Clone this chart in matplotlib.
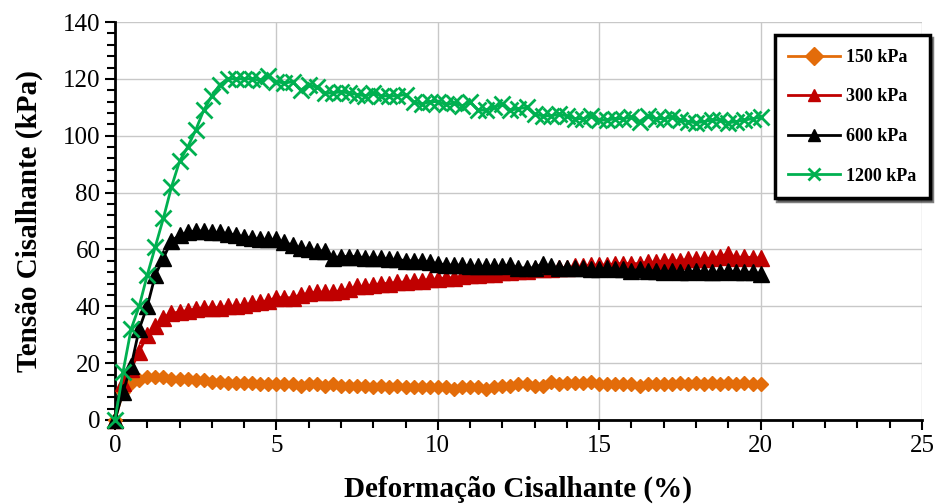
import numpy as np
import matplotlib.pyplot as plt
from matplotlib.ticker import MultipleLocator

# deformação (%) - passo de 0.25
strain = [i * 0.25 for i in range(81)]

tau_150 = [0, 10, 13, 14, 15, 15, 15, 14.5, 14.5, 14.5, 14, 14, 13.5, 13.5, 13, 13,
           13, 13, 12.5, 12.5, 12.5, 12.5, 12.5, 12, 12.5, 12.5, 12, 12.5, 12, 12, 12, 12,
           11.5, 12, 11.5, 12, 11.5, 11.5, 11.5, 11.5, 11.5, 11.5, 11, 11.5, 11.5, 11.5, 11, 11.5,
           12, 12, 12.5, 12.5, 12, 12, 13.5, 12.5, 13, 13, 13, 13.5, 12.5, 12.5, 12.5, 12.5,
           12.5, 12, 12.5, 12.5, 12.5, 12.5, 13, 12.5, 13, 12.5, 13, 12.5, 13, 12.5, 13, 12.5, 12.5]

tau_300 = [0, 13, 18, 24, 30, 33, 36, 37.5, 38, 38.5, 39, 39.5, 39.5, 39.5, 40, 40,
           40.5, 41, 41.5, 42, 43, 43, 43, 44, 44.5, 45, 45, 45, 45.5, 46, 47, 47,
           47.5, 48, 48, 48.5, 48.5, 49, 49, 49.5, 49.5, 50, 50, 50.5, 51, 51, 51.5, 51.5,
           52, 52, 52.5, 52.5, 53, 53, 53, 53.5, 53.5, 54, 54, 54.5, 54.5, 54.5, 55, 55,
           55, 55, 55.5, 55.5, 56, 56, 56, 56.5, 56.5, 56.5, 57, 57.5, 58.5, 57, 57.5, 57, 57]

tau_600 = [0, 10, 19, 32, 40, 51, 57, 63, 65, 66, 66.5, 66.5, 66, 66, 65.5, 65,
           64.5, 64, 63.5, 63.5, 63.5, 62.5, 61.5, 60.5, 60, 59.5, 59.5, 57, 57.5, 57.5, 57.5, 57,
           57, 57, 56.5, 56.5, 56, 56, 56, 55.5, 55, 54.5, 54.5, 54.5, 54, 54, 54, 54,
           54, 54.5, 53.5, 53.5, 53.5, 55, 54, 53.5, 53.5, 53.5, 53.5, 53, 53, 53.5, 53, 53,
           52.5, 53, 52.5, 52.5, 52, 52.5, 52, 52, 52.5, 52, 52, 52, 52.5, 52, 52, 52, 51.5]

tau_1200 = [0, 17, 32, 40, 51, 61, 71, 82, 91, 96, 102, 109, 114, 118, 120, 120,
            120, 120, 119.5, 121, 119, 118.5, 119, 116, 118, 117, 115, 115, 115.5, 115, 114.5, 114,
            115, 114, 114, 114, 114.5, 112, 111, 112, 112, 111, 111.5, 110.5, 112, 109, 109, 110,
            111, 109, 109.5, 110, 107.5, 107, 107, 107.5, 107, 106, 106, 107, 105.5, 105.5, 106, 106,
            106.5, 105, 107, 106, 106, 106.5, 105.5, 105, 104.5, 105, 105.5, 105.5, 104.5, 105, 105.5, 106, 106.5]

labels = ['150 kPa', '300 kPa', '600 kPa', '1200 kPa']

plt.rcParams['font.family'] = ['Liberation Serif', 'DejaVu Serif']

fig = plt.figure(figsize=(9.41, 5.04), dpi=100)
ax = fig.add_axes([0.1222, 0.1667, 0.8576, 0.7896])

ax.plot(strain, tau_150, color='#E36C0A', lw=2, marker='D', ms=7.5, mec='#E36C0A',
        label=labels[0], clip_on=False, zorder=3)
ax.plot(strain, tau_300, color='#C00000', lw=2, marker='^', ms=11, mec='#C00000',
        label=labels[1], clip_on=False, zorder=3)
ax.plot(strain, tau_600, color='black', lw=2, marker='^', ms=11, mec='black',
        label=labels[2], clip_on=False, zorder=3)
ax.plot(strain, tau_1200, color='#00B050', lw=2, marker='x', ms=11, mew=2,
        label=labels[3], clip_on=False, zorder=4)

ax.set_xlim(0, 25)
ax.set_ylim(0, 140)
ax.xaxis.set_major_locator(MultipleLocator(5))
ax.xaxis.set_minor_locator(MultipleLocator(1))
ax.yaxis.set_major_locator(MultipleLocator(20))
ax.yaxis.set_minor_locator(MultipleLocator(4))
ax.grid(True, which='major', color='#c8c8c8', lw=1)
ax.set_axisbelow(True)

for s in ['top', 'right']:
    ax.spines[s].set_visible(False)
for s in ['left', 'bottom']:
    ax.spines[s].set_linewidth(2)
ax.tick_params(which='both', direction='out', width=1.5, labelsize=18)
ax.tick_params(which='major', length=7)
ax.tick_params(which='minor', length=6)

ax.set_xlabel('Deformação Cisalhante (%)', fontsize=21, fontweight='bold', labelpad=14)
ax.set_ylabel('Tensão Cisalhante (kPa)', fontsize=21, fontweight='bold', labelpad=14)

leg = ax.legend(loc='upper right', bbox_to_anchor=(0.988, 0.93), bbox_transform=fig.transFigure,
                borderaxespad=0, fancybox=False, shadow={'color': 'black'}, framealpha=1,
                prop={'weight': 'bold', 'size': 13}, handlelength=2.9, labelspacing=1.25,
                borderpad=0.75, handletextpad=0.3)
leg.get_frame().set_edgecolor('black')
leg.get_frame().set_linewidth(2.5)
for h in leg.legend_handles:
    h.set_markersize(9)

fig.savefig('out.png', dpi=100)
